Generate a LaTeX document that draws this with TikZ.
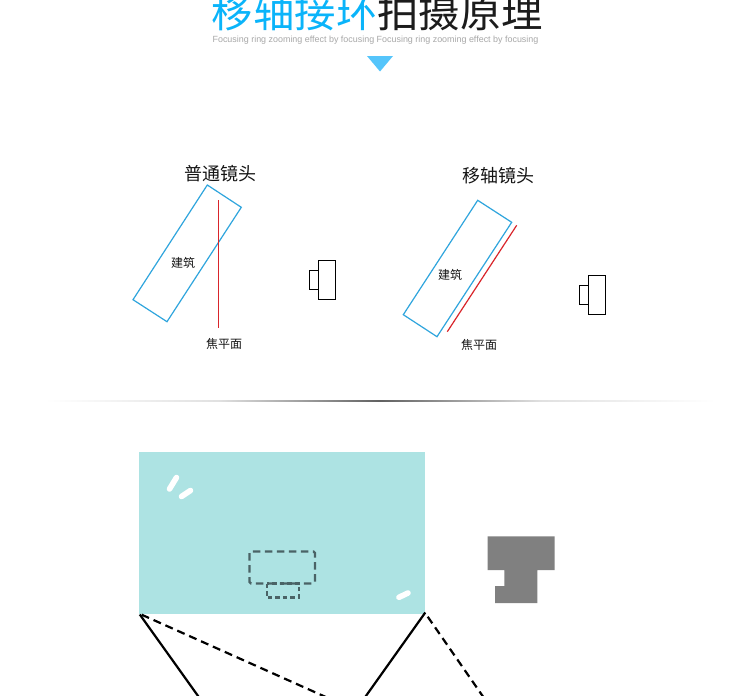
\documentclass[tikz,border=0pt]{standalone}
\usepackage{fontspec}
\newfontfamily\cjk{Noto Sans CJK SC}
\newfontfamily\latinsub{Liberation Sans}
\usetikzlibrary{calc}
\definecolor{titleblue}{HTML}{0AB4FA}
\definecolor{titledark}{HTML}{1C1C1C}
\definecolor{subgray}{HTML}{A8A8A8}
\definecolor{triblue}{HTML}{55C5FB}
\definecolor{outlineblue}{HTML}{2FA5DD}
\definecolor{focusred}{HTML}{D9252B}
\definecolor{teal}{HTML}{ADE3E3}
\definecolor{dashgray}{HTML}{4A6366}
\definecolor{blockgray}{HTML}{808080}
\pgfdeclarehorizontalshading{dividerfade}{100bp}{
  color(0bp)=(white);
  color(25bp)=(white);
  color(38bp)=(black!12);
  color(50bp)=(black!62);
  color(62bp)=(black!12);
  color(75bp)=(white);
  color(100bp)=(white)}
\tikzset{
  x=1pt,y=-1pt,
  label18/.style={inner sep=0,font=\cjk\fontsize{18}{18}\selectfont,text=black!92},
  label12/.style={inner sep=0,font=\cjk\fontsize{12}{12}\selectfont,text=black!92},
  building/.style={draw=outlineblue,line width=1.2pt,line join=miter},
  focal/.style={draw=focusred,line width=1.2pt},
  camera/.style={draw=black,fill=white,line width=1.1pt,inner sep=0,outer sep=0,anchor=north west},
  glare/.style={draw=white,line width=5.6pt,line cap=round},
  hiddenbox/.style={draw=dashgray,line width=2.2pt,dash pattern=on 7.5pt off 4.5pt},
  ray/.style={draw=black,line width=2.2pt},
  rayd/.style={draw=black,line width=2.2pt,dash pattern=on 8pt off 5pt},
}
\begin{document}
\begin{tikzpicture}
\useasboundingbox (0,0) rectangle (750,696);
\fill[white] (0,0) rectangle (750,696);
% title
\node (title) [inner sep=0,anchor=center,font=\cjk\fontsize{41.4}{41.4}\selectfont] at (377.5,12)
  {\textcolor{titleblue}{移轴接环}\textcolor{titledark}{拍摄原理}};
\node (subtitle) [inner sep=0,text=subgray,font=\latinsub\fontsize{8.93}{9}\selectfont] at (375.5,40)
  {Focusing ring zooming effect by focusing Focusing ring zooming effect by focusing};
\fill[triblue] (367,56) -- (393,56) -- (380,71.5) -- cycle;
% left diagram
\node (ltitle) [label18] at (220,174) {普通镜头};
\coordinate (la) at (207.3,185);
\coordinate (lb) at (241.3,207.3);
\coordinate (lc) at (167,321.7);
\coordinate (ld) at (133,299.7);
\draw[building] (la) -- (lb) -- (lc) -- (ld) -- cycle;
\coordinate (lf1) at (218.5,200);
\coordinate (lf2) at (218.5,327.7);
\draw[focal] (lf1) -- (lf2);
\node (lbuild) [label12] at (183,263) {建筑};
\node (lplane) [label12] at (224,344) {焦平面};
\node (lcam1) [camera,minimum width=9pt,minimum height=19pt] at (309.5,270.5) {};
\node (lcam2) [camera,minimum width=17pt,minimum height=39pt] at (318.5,260.5) {};
% right diagram
\node (rtitle) [label18] at (498,176) {移轴镜头};
\coordinate (ra) at (477.7,200.3);
\coordinate (rb) at (511.7,222.3);
\coordinate (rc) at (437,336.7);
\coordinate (rd) at (403.3,314.7);
\draw[building] (ra) -- (rb) -- (rc) -- (rd) -- cycle;
\coordinate (rf1) at (516.7,225.3);
\coordinate (rf2) at (447.3,331.7);
\draw[focal] (rf1) -- (rf2);
\node (rbuild) [label12] at (450,275) {建筑};
\node (rplane) [label12] at (479,345) {焦平面};
\node (rcam1) [camera,minimum width=9pt,minimum height=19pt] at (579.5,285.5) {};
\node (rcam2) [camera,minimum width=17pt,minimum height=39pt] at (588.5,275.5) {};
% divider
\shade[shading=dividerfade] (45,400) rectangle (715,401);
% lower picture
\fill[teal] (139,452) rectangle (425,614);
\draw[glare] (169.5,489) -- (176.5,477.5);
\draw[glare] (181.5,496.5) -- (190.5,490.5);
\draw[glare] (399,597.3) -- (408,593);
\draw[hiddenbox,rounded corners=1.5pt] (249.5,551.5) rectangle (315,583.5);
\draw[hiddenbox,dash pattern=on 4.5pt off 3pt] (266.8,583.5) rectangle (299,597.5);
\fill[blockgray] (487.7,536.3) -- (554.7,536.3) -- (554.7,570) -- (537.3,570) -- (537.3,603) -- (495,603) -- (495,586) -- (504.3,586) -- (504.3,570) -- (487.7,570) -- cycle;
\coordinate (p1) at (139.8,614.5);
\coordinate (p2) at (425.3,612.5);
\coordinate (p3) at (141.7,614.7);
\coordinate (p4) at (427.7,616.7);
\coordinate (q1) at (199.5,698);
\coordinate (q2) at (364.5,698);
\coordinate (q3) at (328,698);
\coordinate (q4) at (484,698);
\begin{scope}
\clip (0,0) rectangle (750,696);
\draw[ray] (p1) -- (q1);
\draw[ray] (p2) -- (q2);
\draw[rayd] (p3) -- (q3);
\draw[rayd] (p4) -- (q4);
\end{scope}
\end{tikzpicture}
\end{document}
